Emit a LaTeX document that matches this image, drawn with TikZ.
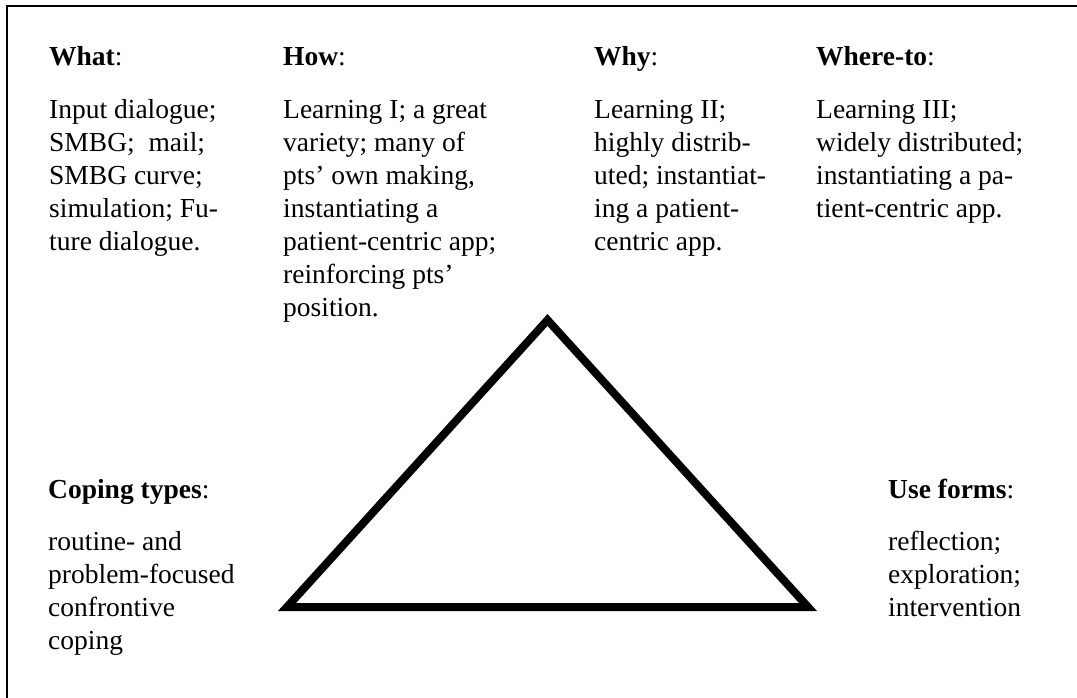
\documentclass[tikz,border=0pt]{standalone}
\usepackage{fontspec}
\setmainfont{Liberation Serif}
\usepackage{tikz}
\usetikzlibrary{positioning}
\newcommand{\headnode}[3]{\node(#1)[head] at (#2){\textbf{#3}:}}
\newcommand{\bodynode}[3]{\node(#1)[body,below right=28.9pt and 0pt of #2.base west]{\strut #3}}

\begin{document}
\begin{tikzpicture}[
        x=1pt, y=-1pt,
        every node/.style={font=\fontsize{27.5}{33}\selectfont},
        head/.style={anchor=base west,inner sep=0pt},
        body/.style={align=left,inner sep=0pt},
        frame/.style={line width=2pt},
        tri/.style={line width=8pt,line join=miter}
      ]
      \useasboundingbox (0,0) rectangle (1077,698);
      \draw[frame] (1077,6) -- (7,6) -- (7,698);
      % top row
      \headnode{what}{49,66}{What};
      \headnode{how}{283,66}{How};
      \headnode{why}{594,66}{Why};
      \headnode{whereto}{816,66}{Where-to};
      \bodynode{whatbody}{what}{Input dialogue;\\ SMBG; \ mail;\\ SMBG curve;\\ simulation; Fu-\\ ture dialogue.};
      \bodynode{howbody}{how}{Learning I; a great\\ variety; many of\\ pts' own making,\\ instantiating a\\ patient-centric app;\\ reinforcing pts'\\ position.};
      \bodynode{whybody}{why}{Learning II;\\ highly distrib-\\ uted; instantiat-\\ ing a patient-\\ centric app.};
      \bodynode{wheretobody}{whereto}{Learning III;\\ widely distributed;\\ instantiating a pa-\\ tient-centric app.};
      % bottom row
      \headnode{coping}{48,498}{Coping types};
      \headnode{useforms}{888,498}{Use forms};
      \bodynode{copingbody}{coping}{routine- and\\ problem-focused\\ confrontive\\ coping};
      \bodynode{useformsbody}{useforms}{reflection;\\ exploration;\\ intervention};
      % triangle
      \coordinate (apex) at (547.5,320);
      \coordinate (left) at (287,607);
      \coordinate (right) at (808,607);
      \draw[tri] (left) -- (apex) -- (right) -- cycle;
    \end{tikzpicture}
\end{document}
